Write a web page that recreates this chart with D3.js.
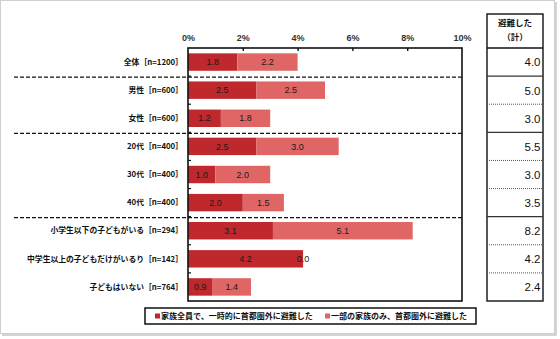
<!DOCTYPE html>
<html>
<head>
<meta charset="utf-8">
<script src="https://cdn.jsdelivr.net/npm/d3@7"></script>
<style>
  html, body { margin: 0; padding: 0; background: #fff; }
  svg { display: block; }
</style>
</head>
<body>
<svg id="chart" width="560" height="339"></svg>
<script>
// Survey groups and the two evacuation answers (percent)
const categories = [
  "全体［n=1200］",
  "男性［n=600］",
  "女性［n=600］",
  "20代［n=400］",
  "30代［n=400］",
  "40代［n=400］",
  "小学生以下の子どもがいる［n=294］",
  "中学生以上の子どもだけがいるり［n=142］",
  "子どもはいない［n=764］"
];
const wholeFamily = [1.8, 2.5, 1.2, 2.5, 1.0, 2.0, 3.1, 4.2, 0.9];
const partFamily  = [2.2, 2.5, 1.8, 3.0, 2.0, 1.5, 5.1, 0.0, 1.4];
const totals      = [4.0, 5.0, 3.0, 5.5, 3.0, 3.5, 8.2, 4.2, 2.4];
const seriesNames = ["家族全員で、一時的に首都圏外に避難した", "一部の家族のみ、首都圏外に避難した"];
const tickValues  = [0, 2, 4, 6, 8, 10];
// group boundaries (index of the first row of a new group)
const groupStarts = [1, 3, 6];

const colors = ["#BF282D", "#E06565"];
const jp = "'Noto Sans CJK JP', 'Noto Sans', sans-serif";
const num = "'Liberation Sans', Arial, sans-serif";

const svg = d3.select("#chart");

// outer frame with a soft shadow on the right and bottom
svg.append("rect").attr("x", 2).attr("y", 2).attr("width", 555).attr("height", 334)
  .attr("fill", "#d4d4d4");
svg.append("rect").attr("x", 0.5).attr("y", 0.5).attr("width", 554).attr("height", 333)
  .attr("fill", "#fff").attr("stroke", "#cfcfcf").attr("stroke-width", 1);

const plotL = 188, plotR = 462, plotT = 48, plotB = 301;
const x = d3.scaleLinear().domain([0, 10]).range([plotL, plotR]);
const y = d3.scaleBand().domain(d3.range(categories.length)).range([plotT, plotB]).paddingInner(0.38).paddingOuter(0.19);
const boundary = i => plotT + i * (plotB - plotT) / categories.length;

// stacked bars
const stack = categories.map((c, i) => [
  { x0: 0, x1: wholeFamily[i], v: wholeFamily[i], s: 0 },
  { x0: wholeFamily[i], x1: wholeFamily[i] + partFamily[i], v: partFamily[i], s: 1 }
]);
const rows = svg.append("g").selectAll("g").data(stack).join("g")
  .attr("transform", (d, i) => `translate(0,${y(i)})`);
rows.selectAll("rect").data(d => d).join("rect")
  .attr("x", d => x(d.x0))
  .attr("width", d => x(d.x1) - x(d.x0))
  .attr("height", y.bandwidth())
  .attr("fill", d => colors[d.s]);
rows.selectAll("text").data(d => d).join("text")
  .attr("x", d => (x(d.x0) + x(d.x1)) / 2)
  .attr("y", y.bandwidth() / 2)
  .attr("dy", "0.35em")
  .attr("text-anchor", "middle")
  .attr("font-family", num)
  .attr("font-size", 9)
  .attr("fill", "#1a1a1a")
  .text(d => d.v.toFixed(1));

// category labels
svg.append("g").selectAll("text").data(categories).join("text")
  .attr("x", 183)
  .attr("y", (d, i) => y(i) + y.bandwidth() / 2)
  .attr("dy", "0.35em")
  .attr("text-anchor", "end")
  .attr("font-family", jp)
  .attr("font-weight", "bold")
  .attr("font-size", 7.8)
  .attr("fill", "#111")
  .text(d => d);

// group separators
svg.append("g").selectAll("line").data(groupStarts).join("line")
  .attr("x1", 14).attr("x2", plotR)
  .attr("y1", d => boundary(d) + 1).attr("y2", d => boundary(d) + 1)
  .attr("stroke", "#111").attr("stroke-width", 1.2).attr("stroke-dasharray", "4,2");

// plot frame
svg.append("rect").attr("x", plotL).attr("y", plotT).attr("width", plotR - plotL).attr("height", plotB - plotT)
  .attr("fill", "none").attr("stroke", "#111").attr("stroke-width", 1.6);

// top axis
const axis = d3.axisTop(x).tickValues(tickValues).tickSize(-3).tickFormat(d => d + "%");
const gx = svg.append("g").attr("transform", `translate(0,${plotT})`).call(axis);
gx.select(".domain").remove();
gx.selectAll(".tick line").attr("stroke", "#111").attr("stroke-width", 1.4)
  .filter(d => d === 0 || d === 10).remove();
gx.selectAll(".tick text").attr("y", -7).attr("font-family", num).attr("font-weight", "bold")
  .attr("font-size", 9).attr("fill", "#333");

// small ticks on the category axis
svg.append("g").selectAll("line").data(d3.range(1, categories.length)).join("line")
  .attr("x1", plotL).attr("x2", plotL + 3)
  .attr("y1", d => boundary(d)).attr("y2", d => boundary(d))
  .attr("stroke", "#111").attr("stroke-width", 1.2);

// totals table
const tx0 = 487, tx1 = 543, ty0 = 14;
const table = svg.append("g");
table.append("rect").attr("x", tx0).attr("y", ty0).attr("width", tx1 - tx0).attr("height", plotB - ty0)
  .attr("fill", "none").attr("stroke", "#111").attr("stroke-width", 1.4);
table.append("line").attr("x1", tx0).attr("x2", tx1).attr("y1", plotT).attr("y2", plotT)
  .attr("stroke", "#111").attr("stroke-width", 1.4);
table.selectAll("line.row").data(d3.range(1, categories.length)).join("line")
  .attr("class", "row")
  .attr("x1", tx0).attr("x2", tx1)
  .attr("y1", d => boundary(d)).attr("y2", d => boundary(d))
  .attr("stroke", d => groupStarts.includes(d) ? "#333" : "#555")
  .attr("stroke-width", d => groupStarts.includes(d) ? 1.4 : 1)
  .attr("stroke-dasharray", d => groupStarts.includes(d) ? null : "1,1");
table.append("text").attr("x", (tx0 + tx1) / 2).attr("y", 26)
  .attr("text-anchor", "middle").attr("font-family", jp).attr("font-weight", "bold")
  .attr("font-size", 8.5).attr("fill", "#111").text("避難した");
table.append("text").attr("x", (tx0 + tx1) / 2).attr("y", 40)
  .attr("text-anchor", "middle").attr("font-family", jp).attr("font-weight", "bold")
  .attr("font-size", 8.5).attr("fill", "#111").text("（計）");
table.selectAll("text.val").data(totals).join("text")
  .attr("class", "val")
  .attr("x", tx1 - 2.5)
  .attr("y", (d, i) => y(i) + y.bandwidth() / 2)
  .attr("dy", "0.38em")
  .attr("text-anchor", "end")
  .attr("font-family", num)
  .attr("font-size", 11.5)
  .attr("fill", "#111")
  .text(d => d.toFixed(1));

// legend
const lg = svg.append("g");
lg.append("rect").attr("x", 145).attr("y", 308).attr("width", 331).attr("height", 16)
  .attr("fill", "#fff").attr("stroke", "#111").attr("stroke-width", 1.5);
const legendX = [155, 325];
seriesNames.forEach((name, i) => {
  lg.append("rect").attr("x", legendX[i]).attr("y", 313.5).attr("width", 5).attr("height", 5)
    .attr("fill", colors[i]);
  lg.append("text").attr("x", legendX[i] + 6).attr("y", 316).attr("dy", "0.35em")
    .attr("font-family", jp).attr("font-weight", "bold").attr("font-size", 8)
    .attr("fill", "#111").text(name);
});
</script>
</body>
</html>
